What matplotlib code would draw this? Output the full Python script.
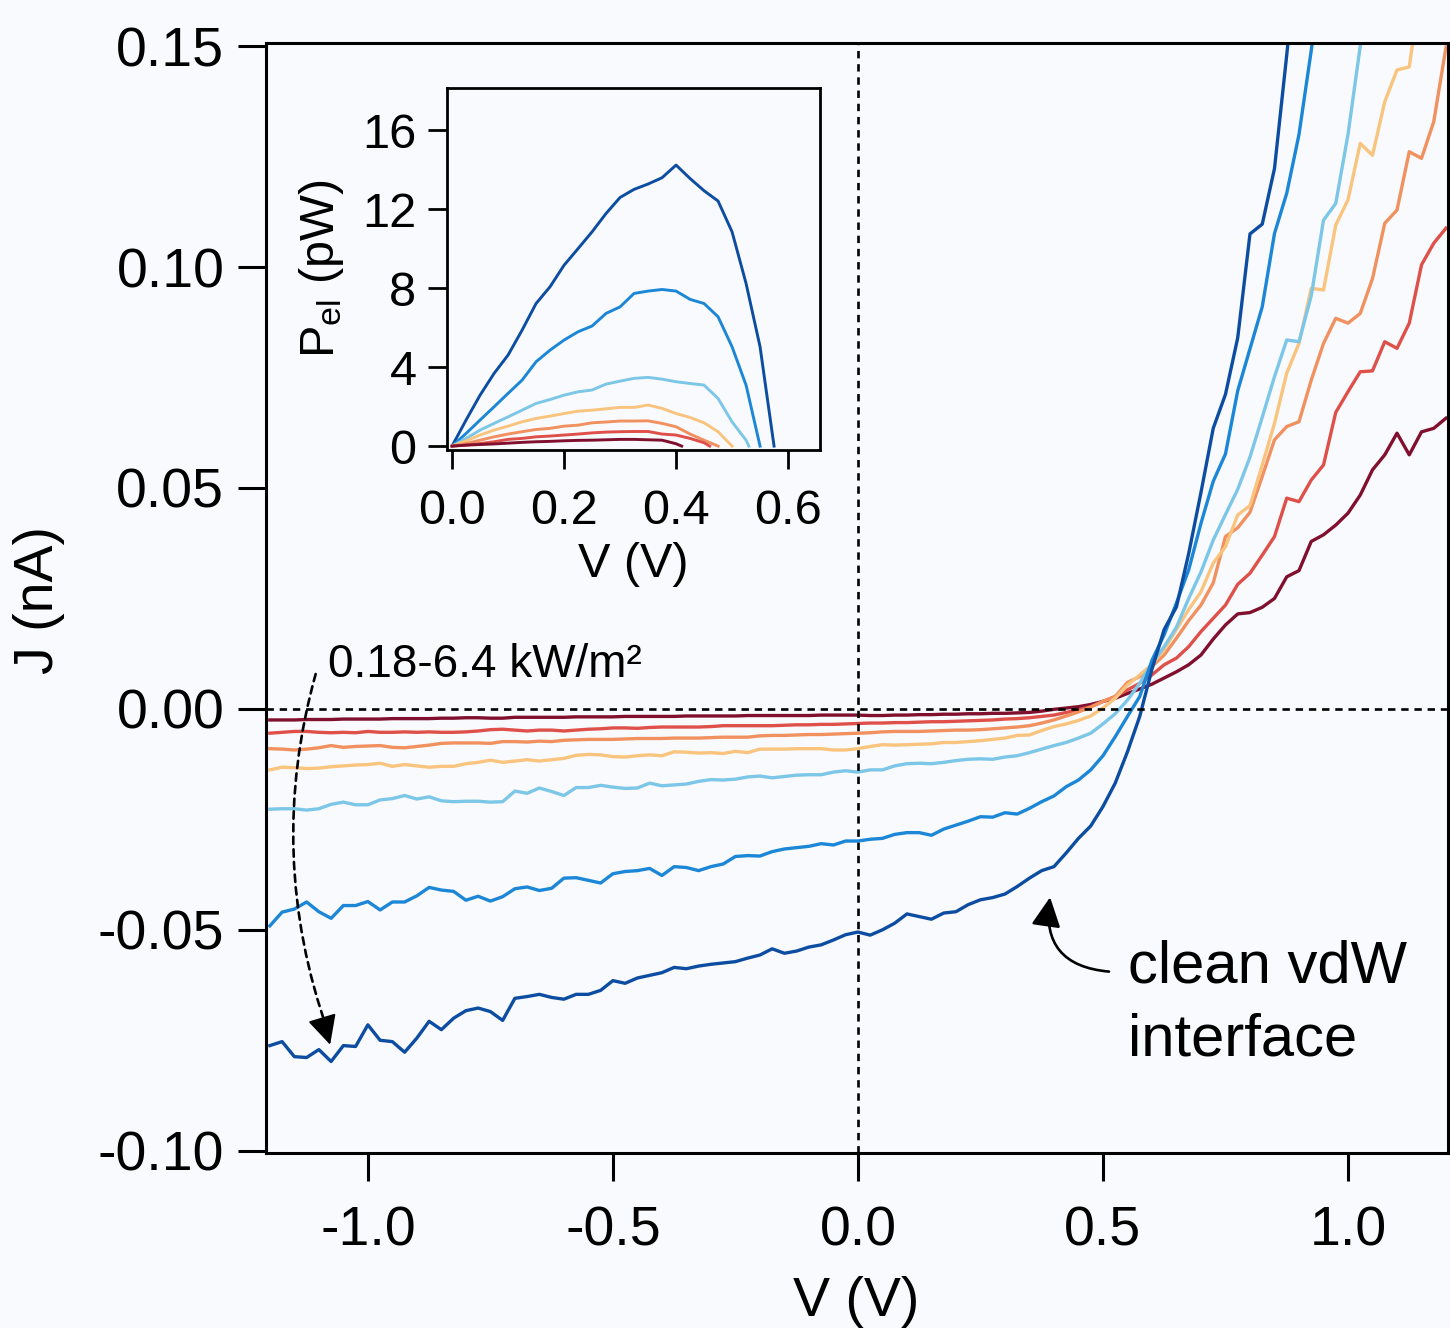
import numpy as np
import matplotlib
matplotlib.use('Agg')
import matplotlib.pyplot as plt
from matplotlib.patches import FancyArrowPatch

plt.rcParams['font.family'] = ['Liberation Sans', 'DejaVu Sans']
plt.rcParams['mathtext.fontset'] = 'custom'
plt.rcParams['mathtext.rm'] = 'Liberation Sans'
plt.rcParams['mathtext.it'] = 'Liberation Sans:italic'

BG = '#f9fafd'

# voltage sweep (V), 25 mV steps
V = np.round(np.arange(-1.2, 1.2001, 0.025), 3)

# J (nA) per illumination, dark blue = highest intensity
J_db = [-0.0762, -0.0753, -0.0787, -0.0789, -0.0771, -0.0798, -0.0762, -0.0764, -0.0715,
        -0.0750, -0.0753, -0.0777, -0.0745, -0.0707, -0.0726, -0.0700, -0.0683,
        -0.0677, -0.0685, -0.0705, -0.0655, -0.0651, -0.0646, -0.0653, -0.0657,
        -0.0646, -0.0646, -0.0637, -0.0615, -0.0621, -0.0609, -0.0603, -0.0597,
        -0.0585, -0.0588, -0.0582, -0.0578, -0.0575, -0.0572, -0.0564, -0.0557,
        -0.0543, -0.0553, -0.0548, -0.0539, -0.0534, -0.0523, -0.0511, -0.0505,
        -0.0512, -0.0500, -0.0485, -0.0464, -0.0470, -0.0476, -0.0462, -0.0459,
        -0.0443, -0.0432, -0.0427, -0.0419, -0.0402, -0.0383, -0.0366, -0.0357,
        -0.0326, -0.0293, -0.0265, -0.0221, -0.0168, -0.0097, -0.0017, 0.0090,
        0.0180, 0.0231, 0.0352, 0.0490, 0.0635, 0.0712, 0.0840, 0.1075,
        0.1097, 0.1223, 0.1480, 0.1750]
J_mb = [-0.0491, -0.0460, -0.0453, -0.0437, -0.0459, -0.0474, -0.0445, -0.0445, -0.0436,
        -0.0455, -0.0437, -0.0437, -0.0423, -0.0404, -0.0410, -0.0413, -0.0433,
        -0.0424, -0.0435, -0.0425, -0.0407, -0.0403, -0.0411, -0.0406, -0.0383,
        -0.0382, -0.0388, -0.0394, -0.0373, -0.0368, -0.0366, -0.0361, -0.0377,
        -0.0357, -0.0359, -0.0366, -0.0357, -0.0351, -0.0334, -0.0332, -0.0333,
        -0.0323, -0.0317, -0.0314, -0.0311, -0.0305, -0.0308, -0.0299, -0.0299,
        -0.0295, -0.0293, -0.0284, -0.0280, -0.0280, -0.0286, -0.0272, -0.0263,
        -0.0254, -0.0244, -0.0245, -0.0235, -0.0238, -0.0225, -0.0210, -0.0197,
        -0.0176, -0.0161, -0.0138, -0.0106, -0.0063, -0.0017, 0.0028, 0.0110,
        0.0168, 0.0240, 0.0315, 0.0420, 0.0515, 0.0577, 0.0720, 0.0815,
        0.0910, 0.1076, 0.1167, 0.1300, 0.1490, 0.1700]
J_lb = [-0.0227, -0.0226, -0.0226, -0.0229, -0.0226, -0.0216, -0.0211, -0.0217, -0.0217,
        -0.0206, -0.0203, -0.0196, -0.0204, -0.0199, -0.0208, -0.0210, -0.0209,
        -0.0209, -0.0211, -0.0210, -0.0186, -0.0191, -0.0179, -0.0187, -0.0196,
        -0.0178, -0.0178, -0.0173, -0.0177, -0.0180, -0.0179, -0.0168, -0.0174,
        -0.0172, -0.0170, -0.0164, -0.0160, -0.0161, -0.0159, -0.0154, -0.0152,
        -0.0156, -0.0153, -0.0150, -0.0149, -0.0149, -0.0143, -0.0140, -0.0143,
        -0.0138, -0.0138, -0.0129, -0.0124, -0.0123, -0.0124, -0.0121, -0.0117,
        -0.0114, -0.0113, -0.0114, -0.0109, -0.0106, -0.0099, -0.0091, -0.0083,
        -0.0076, -0.0066, -0.0055, -0.0034, -0.0011, 0.0020, 0.0058, 0.0103,
        0.0141, 0.0185, 0.0250, 0.0310, 0.0382, 0.0440, 0.0497, 0.0570,
        0.0660, 0.0752, 0.0835, 0.0831, 0.0935, 0.1106, 0.1144, 0.1300,
        0.1500, 0.1650]
J_lo = [-0.0138, -0.0132, -0.0133, -0.0135, -0.0134, -0.0131, -0.0129, -0.0127, -0.0126,
        -0.0123, -0.0130, -0.0126, -0.0129, -0.0132, -0.0130, -0.0130, -0.0124,
        -0.0121, -0.0116, -0.0121, -0.0118, -0.0115, -0.0118, -0.0115, -0.0112,
        -0.0105, -0.0103, -0.0104, -0.0108, -0.0109, -0.0106, -0.0104, -0.0106,
        -0.0097, -0.0098, -0.0100, -0.0099, -0.0101, -0.0096, -0.0099, -0.0091,
        -0.0091, -0.0091, -0.0090, -0.0090, -0.0090, -0.0093, -0.0093, -0.0090,
        -0.0085, -0.0081, -0.0082, -0.0081, -0.0080, -0.0079, -0.0076, -0.0076,
        -0.0074, -0.0072, -0.0069, -0.0066, -0.0060, -0.0059, -0.0049, -0.0040,
        -0.0034, -0.0026, -0.0016, 0.0002, 0.0024, 0.0054, 0.0077, 0.0100,
        0.0135, 0.0180, 0.0225, 0.0265, 0.0330, 0.0367, 0.0439, 0.0460,
        0.0552, 0.0646, 0.0760, 0.0827, 0.0952, 0.0948, 0.1095, 0.1152,
        0.1280, 0.1253, 0.1374, 0.1446, 0.1453, 0.1650]
J_or = [-0.0090, -0.0091, -0.0093, -0.0091, -0.0088, -0.0083, -0.0087, -0.0085, -0.0084,
        -0.0083, -0.0087, -0.0088, -0.0085, -0.0082, -0.0078, -0.0077, -0.0077,
        -0.0077, -0.0078, -0.0074, -0.0074, -0.0075, -0.0073, -0.0074, -0.0071,
        -0.0070, -0.0069, -0.0069, -0.0069, -0.0068, -0.0067, -0.0067, -0.0067,
        -0.0066, -0.0066, -0.0066, -0.0065, -0.0064, -0.0064, -0.0064, -0.0061,
        -0.0060, -0.0060, -0.0059, -0.0058, -0.0058, -0.0057, -0.0056, -0.0055,
        -0.0054, -0.0052, -0.0051, -0.0051, -0.0051, -0.0050, -0.0049, -0.0048,
        -0.0048, -0.0047, -0.0045, -0.0043, -0.0041, -0.0038, -0.0032, -0.0025,
        -0.0016, -0.0007, 0.0004, 0.0017, 0.0028, 0.0060, 0.0073, 0.0096,
        0.0122, 0.0160, 0.0200, 0.0235, 0.0285, 0.0390, 0.0410, 0.0445,
        0.0526, 0.0609, 0.0639, 0.0650, 0.0744, 0.0827, 0.0884, 0.0873,
        0.0895, 0.0974, 0.1099, 0.1129, 0.1261, 0.1246, 0.1329, 0.1498]
J_rd = [-0.0055, -0.0053, -0.0051, -0.0051, -0.0053, -0.0054, -0.0053, -0.0054, -0.0051,
        -0.0053, -0.0053, -0.0052, -0.0053, -0.0052, -0.0053, -0.0053, -0.0052,
        -0.0050, -0.0047, -0.0046, -0.0048, -0.0050, -0.0048, -0.0048, -0.0050,
        -0.0048, -0.0046, -0.0045, -0.0043, -0.0043, -0.0044, -0.0042, -0.0041,
        -0.0041, -0.0041, -0.0041, -0.0040, -0.0038, -0.0038, -0.0038, -0.0038,
        -0.0038, -0.0037, -0.0036, -0.0036, -0.0035, -0.0035, -0.0034, -0.0033,
        -0.0032, -0.0032, -0.0031, -0.0031, -0.0030, -0.0029, -0.0029, -0.0028,
        -0.0027, -0.0026, -0.0025, -0.0023, -0.0022, -0.0020, -0.0017, -0.0014,
        -0.0008, -0.0002, 0.0005, 0.0017, 0.0028, 0.0043, 0.0058, 0.0077,
        0.0100, 0.0115, 0.0141, 0.0175, 0.0205, 0.0235, 0.0282, 0.0307,
        0.0348, 0.0390, 0.0477, 0.0469, 0.0518, 0.0552, 0.0671, 0.0718,
        0.0763, 0.0765, 0.0831, 0.0816, 0.0873, 0.1005, 0.1054, 0.1088]
J_dr = [-0.0025, -0.0025, -0.0025, -0.0024, -0.0024, -0.0024, -0.0023, -0.0023, -0.0023,
        -0.0023, -0.0022, -0.0022, -0.0022, -0.0022, -0.0021, -0.0021, -0.0020,
        -0.0020, -0.0021, -0.0021, -0.0019, -0.0019, -0.0019, -0.0019, -0.0019,
        -0.0018, -0.0018, -0.0018, -0.0018, -0.0017, -0.0017, -0.0017, -0.0017,
        -0.0017, -0.0016, -0.0016, -0.0016, -0.0016, -0.0016, -0.0015, -0.0015,
        -0.0015, -0.0015, -0.0015, -0.0015, -0.0014, -0.0014, -0.0014, -0.0014,
        -0.0015, -0.0015, -0.0014, -0.0014, -0.0013, -0.0013, -0.0012, -0.0012,
        -0.0011, -0.0011, -0.0010, -0.0010, -0.0009, -0.0008, -0.0005, -0.0001,
        0.0002, 0.0005, 0.0010, 0.0017, 0.0024, 0.0035, 0.0045, 0.0056,
        0.0070, 0.0084, 0.0100, 0.0122, 0.0158, 0.0190, 0.0215, 0.0218,
        0.0230, 0.0250, 0.0299, 0.0313, 0.0379, 0.0394, 0.0416, 0.0443,
        0.0484, 0.0541, 0.0575, 0.0624, 0.0575, 0.0627, 0.0635, 0.0658]

# inset: electrical power (pW) on the same 25 mV grid from 0 V, ending at Voc
V_in = np.round(np.arange(0, 0.6001, 0.025), 3)
P_db = [0, 1.32, 2.58, 3.68, 4.61, 5.87, 7.22, 8.07, 9.16, 10.0, 10.85, 11.78, 12.59,
        13.0, 13.27, 13.59, 14.23, 13.55, 12.93, 12.41, 10.85, 8.24, 5.03, 0]
P_mb = [0, 0.64, 1.32, 1.99, 2.67, 3.34, 4.27, 4.86, 5.37, 5.79, 6.08, 6.72, 7.05,
        7.73, 7.85, 7.93, 7.85, 7.43, 7.22, 6.55, 5.03, 3.09, 0]
P_lb = [0, 0.39, 0.81, 1.15, 1.48, 1.82, 2.16, 2.36, 2.58, 2.75, 2.84, 3.14, 3.29,
        3.43, 3.48, 3.39, 3.26, 3.17, 3.09, 2.41, 1.23, 0.30, 0]
P_lo = [0, 0.27, 0.56, 0.81, 1.01, 1.23, 1.40, 1.52, 1.65, 1.77, 1.82, 1.89, 1.96,
        1.96, 2.08, 1.91, 1.65, 1.45, 1.18, 0.73, 0]
P_or = [0, 0.13, 0.30, 0.47, 0.61, 0.73, 0.84, 0.90, 1.01, 1.06, 1.18, 1.22, 1.27,
        1.27, 1.28, 1.15, 0.98, 0.61, 0.30, 0]
P_rd = [0, 0.05, 0.13, 0.22, 0.34, 0.39, 0.47, 0.51, 0.56, 0.61, 0.67, 0.71, 0.73,
        0.74, 0.74, 0.61, 0.56, 0.39, 0.17, 0]
P_dr = [0, 0.05, 0.08, 0.11, 0.15, 0.19, 0.22, 0.24, 0.27, 0.29, 0.30, 0.32, 0.34,
        0.34, 0.32, 0.30, 0.12, 0]
Voc = [0.575, 0.55, 0.53, 0.50, 0.475, 0.46, 0.41]

colors = ['#0c4da2', '#1b87d6', '#7cc6e7', '#f8c47e', '#f0915f', '#de5049', '#80102e']
J_all = [J_db, J_mb, J_lb, J_lo, J_or, J_rd, J_dr]
P_all = [P_db, P_mb, P_lb, P_lo, P_or, P_rd, P_dr]

fig = plt.figure(figsize=(14.5, 13.28), dpi=100, facecolor=BG)
ax = fig.add_axes([0.1834, 0.1318, 0.8152, 0.8358], facecolor=BG)

for j, c in reversed(list(zip(J_all, colors))):
    ax.plot(V[:len(j)], j, color=c, lw=2.4, zorder=2)

ax.axhline(0, color='black', lw=1.9, ls=(0, (2.8, 2.2)), zorder=3)
ax.axvline(0, color='black', lw=1.9, ls=(0, (2.8, 2.2)), zorder=3)

ax.set_xlim(-1.208, 1.204)
ax.set_ylim(-0.1005, 0.1507)
ax.set_xticks([-1.0, -0.5, 0.0, 0.5, 1.0])
ax.set_xticklabels(['-1.0', '-0.5', '0.0', '0.5', '1.0'])
ax.set_yticks([-0.10, -0.05, 0.0, 0.05, 0.10, 0.15])
ax.set_yticklabels(['-0.10', '-0.05', '0.00', '0.05', '0.10', '0.15'])
ax.tick_params(direction='out', length=20, width=2.2, labelsize=40, pad=10)
ax.tick_params(axis='x', pad=18)
for s in ax.spines.values():
    s.set_linewidth(2.2)
ax.set_xlabel('V (V)', fontsize=40)
ax.set_ylabel('J (nA)', fontsize=40)
ax.xaxis.set_label_coords(0.499, -0.111)
ax.yaxis.set_label_coords(-0.17, 0.498)

# intensity annotation: dashed curved shaft + solid head
ax.text(-1.082, 0.0072, '0.18-6.4 kW/m²', fontsize=33, ha='left', va='baseline')
shaft = FancyArrowPatch((-1.105, 0.0085), (-1.080, -0.0735),
                        connectionstyle='arc3,rad=0.16', arrowstyle='-',
                        color='black', lw=1.9, ls=(0, (2.8, 2.0)), zorder=4)
ax.add_patch(shaft)
head = FancyArrowPatch((-1.090, -0.0712), (-1.077, -0.0760),
                       arrowstyle='-|>,head_length=0.9,head_width=0.45', mutation_scale=20,
                       color='black', lw=1.5, shrinkA=0, shrinkB=0, zorder=4)
ax.add_patch(head)

ax.text(0.552, -0.0620, 'clean vdW', fontsize=43, ha='left', va='baseline')
ax.text(0.552, -0.0785, 'interface', fontsize=43, ha='left', va='baseline')
arr2 = FancyArrowPatch((0.518, -0.0595), (0.393, -0.0420),
                       connectionstyle='arc3,rad=-0.55', arrowstyle='-|>,head_length=0.9,head_width=0.45',
                       color='black', lw=1.9, mutation_scale=20, zorder=4)
ax.add_patch(arr2)

# inset
axin = fig.add_axes([0.3083, 0.6611, 0.2572, 0.2726], facecolor=BG)
for p, c, voc in zip(P_all, colors, Voc):
    vv = list(V_in[:len(p) - 1]) + [voc]
    axin.plot(vv, p, color=c, lw=2.1)
axin.set_xlim(-0.009, 0.657)
axin.set_ylim(-0.2, 18.13)
axin.set_xticks([0.0, 0.2, 0.4, 0.6])
axin.set_xticklabels(['0.0', '0.2', '0.4', '0.6'])
axin.set_yticks([0, 4, 8, 12, 16])
axin.tick_params(direction='out', length=14, width=2.0, labelsize=35, pad=8)
axin.tick_params(axis='x', pad=14)
for s in axin.spines.values():
    s.set_linewidth(2.0)
axin.set_xlabel('V (V)', fontsize=35)
axin.set_ylabel(r'P$_{\mathrm{el}}$ (pW)', fontsize=35)
axin.xaxis.set_label_coords(0.5, -0.255)
axin.yaxis.set_label_coords(-0.27, 0.5)

fig.savefig('out.png', dpi=100, facecolor=BG)
